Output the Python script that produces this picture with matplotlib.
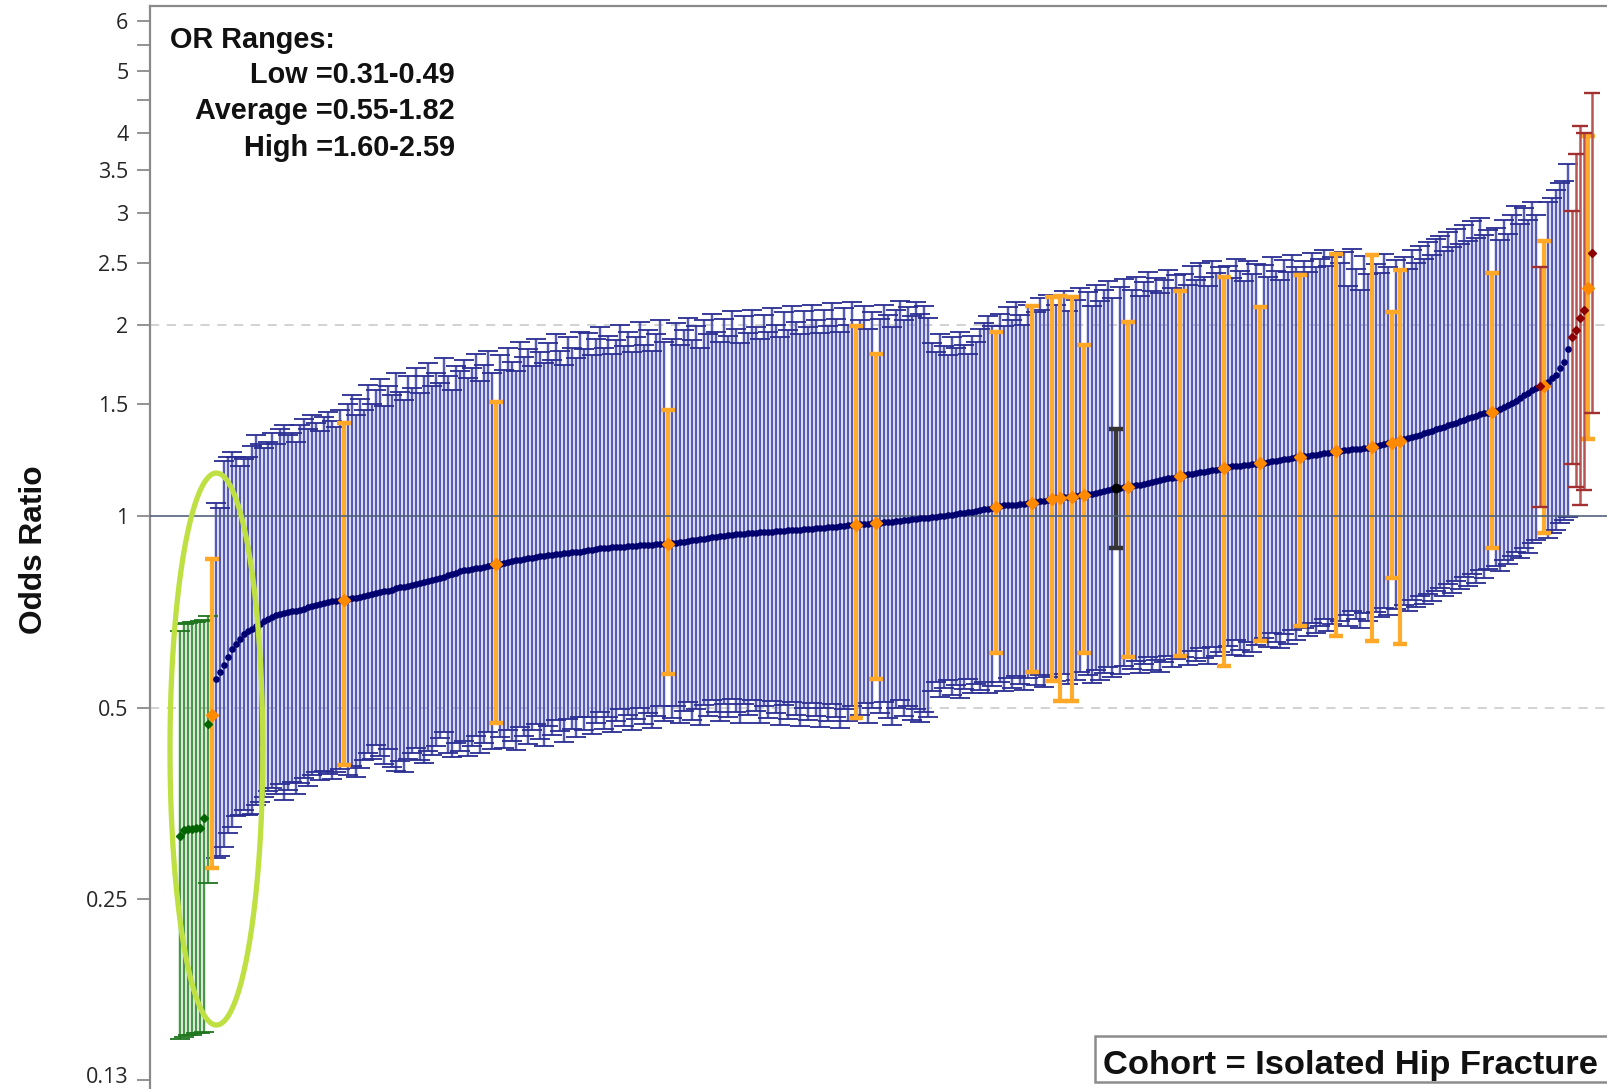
import numpy as np
import matplotlib
matplotlib.use("Agg")
import matplotlib.pyplot as plt
from matplotlib.patches import Rectangle
from matplotlib.transforms import ScaledTranslation

# ---------------- data (odds ratio, lower CI, upper CI) ----------------
green_or = [0.315, 0.321, 0.322, 0.323, 0.3235, 0.324, 0.336, 0.472]
green_lo = [0.151, 0.152, 0.153, 0.153, 0.154, 0.154, 0.155, 0.265]
green_hi = [0.660, 0.677, 0.679, 0.681, 0.683, 0.685, 0.687, 0.697]

orange_or = [0.488, 0.739, 0.840, 0.905, 0.970, 0.975, 1.035, 1.049, 1.065, 1.068, 1.072, 1.080,
             1.111, 1.157, 1.190, 1.211, 1.240, 1.264, 1.283, 1.305, 1.315, 1.457, 1.602, 2.28]
orange_lo = [0.280, 0.406, 0.473, 0.566, 0.482, 0.555, 0.610, 0.570, 0.550, 0.513, 0.513, 0.610,
             0.600, 0.603, 0.581, 0.637, 0.673, 0.649, 0.637, 0.800, 0.630, 0.891, 0.940, 1.32]
orange_hi = [0.856, 1.40, 1.51, 1.467, 1.99, 1.80, 1.95, 2.14, 2.21, 2.22, 2.21, 1.86,
             2.02, 2.26, 2.376, 2.13, 2.39, 2.58, 2.57, 2.09, 2.44, 2.41, 2.71, 3.95]

red_or = [1.600, 1.91, 1.96, 2.05, 2.11, 2.59]
red_lo = [1.035, 1.21, 1.11, 1.04, 1.10, 1.45]
red_hi = [2.46, 3.02, 3.71, 4.10, 4.00, 4.62]

black_or = [1.107]
black_lo = [0.891]
black_hi = [1.371]

blue_or = [
    0.555, 0.570, 0.583, 0.601, 0.618, 0.630, 0.641, 0.652, 0.660, 0.666, 0.671, 0.678,
    0.684, 0.690, 0.695, 0.699, 0.703, 0.705, 0.707, 0.709, 0.710, 0.712, 0.716, 0.719,
    0.722, 0.726, 0.729, 0.731, 0.733, 0.735, 0.736, 0.738,
    0.741, 0.743, 0.745, 0.747, 0.750, 0.752, 0.755, 0.757, 0.760, 0.762, 0.764, 0.767,
    0.770, 0.773, 0.775, 0.777, 0.779, 0.782, 0.785, 0.788, 0.790, 0.793, 0.796, 0.800,
    0.803, 0.807, 0.811, 0.815, 0.819,
    0.822, 0.824, 0.826, 0.828, 0.830, 0.832, 0.834, 0.837,
    0.842, 0.845, 0.848, 0.851, 0.853, 0.855, 0.857, 0.859, 0.861, 0.863, 0.865, 0.866,
    0.868, 0.869, 0.871, 0.872, 0.874, 0.875, 0.877, 0.879, 0.880,
    0.882, 0.884, 0.886, 0.888, 0.890, 0.891, 0.892, 0.893, 0.894, 0.895, 0.896, 0.897,
    0.898, 0.899, 0.900, 0.9005, 0.901, 0.902, 0.903, 0.9035, 0.904,
    0.907, 0.908, 0.910, 0.912, 0.914, 0.916, 0.918, 0.920, 0.922, 0.924, 0.926, 0.928,
    0.930, 0.932, 0.933, 0.935, 0.936, 0.938, 0.939, 0.940, 0.941, 0.942, 0.943, 0.944,
    0.945, 0.946, 0.947, 0.948, 0.949, 0.950, 0.951, 0.952, 0.953, 0.954, 0.955, 0.956,
    0.957, 0.958, 0.959, 0.960, 0.962, 0.963, 0.965, 0.966, 0.968, 0.969,
    0.971, 0.972, 0.973, 0.974,
    0.977, 0.978, 0.980, 0.981, 0.983, 0.984, 0.986, 0.987, 0.989, 0.990, 0.992, 0.993,
    0.995,
    0.996, 0.998, 1.000, 1.002, 1.004, 1.006, 1.008, 1.010, 1.012, 1.014, 1.016,
    1.019, 1.022, 1.025, 1.028, 1.031,
    1.038, 1.040, 1.041, 1.042, 1.043, 1.045, 1.046, 1.048,
    1.052, 1.055, 1.058, 1.062,
    1.067,
    1.070, 1.071,
    1.076, 1.078,
    1.082, 1.085, 1.088, 1.091, 1.095, 1.099, 1.103,
    1.109, 1.110,
    1.114, 1.118, 1.121, 1.125, 1.128, 1.132, 1.135, 1.139, 1.143, 1.147, 1.150, 1.154,
    1.160, 1.163, 1.166, 1.169, 1.172, 1.175, 1.178, 1.181, 1.184, 1.187,
    1.195, 1.197, 1.199, 1.201, 1.203, 1.205, 1.207, 1.209,
    1.214, 1.217, 1.220, 1.223, 1.226, 1.229, 1.232, 1.235, 1.238,
    1.243, 1.245, 1.248, 1.250, 1.253, 1.256, 1.259, 1.262,
    1.267, 1.269, 1.271, 1.273, 1.275, 1.277, 1.279, 1.281,
    1.288, 1.293, 1.298, 1.303,
    1.310,
    1.320, 1.325, 1.331, 1.337, 1.343, 1.349, 1.356, 1.363, 1.370, 1.376, 1.383, 1.390,
    1.396, 1.403, 1.410, 1.417, 1.424, 1.431, 1.438, 1.445, 1.450, 1.455,
    1.465, 1.475, 1.485, 1.495, 1.507, 1.519, 1.532, 1.548, 1.563, 1.578, 1.590,
    1.625, 1.650, 1.665, 1.710, 1.745, 1.830,
]
blue_hi = [
    1.05, 1.03, 1.22, 1.24, 1.26, 1.24, 1.20, 1.23, 1.24, 1.29, 1.34, 1.30,
    1.28, 1.31, 1.35, 1.30, 1.37, 1.39, 1.34, 1.35, 1.31, 1.39,
    1.42, 1.37, 1.44, 1.40, 1.36, 1.43, 1.46, 1.41, 1.38, 1.47,
    1.50, 1.55, 1.44, 1.53, 1.47, 1.61, 1.50, 1.58, 1.64, 1.49,
    1.60, 1.55, 1.68, 1.57, 1.52, 1.66, 1.59, 1.71, 1.56, 1.66,
    1.74, 1.60, 1.68, 1.62, 1.77, 1.66, 1.58, 1.72, 1.69,
    1.76, 1.65, 1.71, 1.80, 1.63, 1.73, 1.82, 1.68,
    1.79, 1.70, 1.84, 1.75, 1.69, 1.88, 1.78, 1.83, 1.72, 1.90,
    1.81, 1.74, 1.87, 1.76, 1.93, 1.82, 1.73, 1.91, 1.84, 1.77, 1.95,
    1.83, 1.94, 1.79, 1.90, 1.98, 1.84, 1.92, 1.80, 1.89, 2.00,
    1.85, 1.95, 1.81, 1.91, 2.02, 1.86, 1.96, 1.82, 1.93, 2.03, 1.88,
    1.90, 2.01, 1.86, 1.96, 2.05, 1.89, 1.99, 1.84, 2.03, 1.93,
    2.08, 1.95, 1.88, 2.04, 1.92, 2.10, 1.97, 1.87, 2.06, 1.94,
    2.11, 1.98, 1.90, 2.07, 1.95, 2.12, 2.00, 1.91, 2.09, 1.96,
    2.14, 2.02, 1.93, 2.10, 1.98, 2.15, 2.03, 1.94, 2.11, 1.99,
    2.16, 2.04, 1.95, 2.12, 2.00, 2.17,
    2.03, 2.14, 1.97, 2.09,
    2.04, 2.15, 2.07, 1.98, 2.11, 2.18, 2.03, 2.13, 2.06, 2.17, 2.08, 2.14, 2.05,
    1.87, 1.81, 1.93, 1.85, 1.79, 1.91, 1.84, 1.95, 1.86, 1.80, 1.92, 1.88, 1.97, 2.01, 2.06, 1.99,
    2.08, 1.99, 2.13, 2.03, 2.17, 2.07, 2.00, 2.15,
    2.09, 2.20, 2.11, 2.23,
    2.15,
    2.26, 2.10,
    2.19, 2.28,
    2.25, 2.14, 2.31, 2.18, 2.27, 2.34, 2.20,
    2.29, 2.36,
    2.27, 2.38, 2.22, 2.33, 2.42, 2.26, 2.37, 2.24, 2.35, 2.44, 2.28, 2.39,
    2.40, 2.31, 2.47, 2.35, 2.50, 2.38, 2.30, 2.52, 2.41, 2.46,
    2.47, 2.37, 2.54, 2.43, 2.34, 2.52, 2.40, 2.49,
    2.48, 2.38, 2.55, 2.43, 2.35, 2.53, 2.42, 2.57, 2.46,
    2.52, 2.42, 2.59, 2.46, 2.54, 2.62, 2.47, 2.55,
    2.50, 2.60, 2.30, 2.63, 2.45, 2.27, 2.56, 2.40,
    2.49, 2.41, 2.58, 2.46,
    2.53,
    2.55, 2.45, 2.62, 2.50, 2.66, 2.54, 2.70, 2.57, 2.73, 2.76,
    2.61, 2.80, 2.65, 2.83, 2.68, 2.87, 2.71, 2.91, 2.74, 2.94, 2.77, 2.82,
    2.84, 2.72, 2.92, 2.78, 2.97, 3.07, 2.88, 3.05, 2.92, 3.12, 2.97,
    3.12, 3.16, 3.26, 3.34, 3.36, 3.57,
]
blue_lo = [
    0.290, 0.292, 0.302, 0.318, 0.325, 0.338, 0.339, 0.345, 0.339, 0.340, 0.352, 0.356,
    0.362, 0.370, 0.374, 0.366, 0.380, 0.358, 0.372, 0.382, 0.366, 0.381,
    0.388, 0.377, 0.392, 0.396, 0.385, 0.398, 0.393, 0.386, 0.397, 0.401,
    0.392, 0.405, 0.389, 0.402, 0.414, 0.425, 0.416, 0.437, 0.420, 0.408,
    0.430, 0.404, 0.398, 0.413, 0.396, 0.416, 0.425, 0.432, 0.414, 0.409,
    0.428, 0.421, 0.436, 0.448, 0.458, 0.425, 0.418, 0.441, 0.428,
    0.444, 0.420, 0.436, 0.452, 0.425, 0.440, 0.458, 0.430,
    0.450, 0.433, 0.461, 0.444, 0.429, 0.466, 0.452, 0.438, 0.462, 0.472,
    0.447, 0.436, 0.468, 0.453, 0.478, 0.459, 0.442, 0.480, 0.463, 0.450, 0.484,
    0.462, 0.484, 0.455, 0.474, 0.492, 0.463, 0.483, 0.458, 0.476, 0.497,
    0.468, 0.487, 0.461, 0.480, 0.500, 0.472, 0.490, 0.464, 0.485, 0.503, 0.476,
    0.482, 0.503, 0.474, 0.494, 0.510, 0.478, 0.497, 0.470, 0.505, 0.486,
    0.514, 0.492, 0.476, 0.506, 0.484, 0.516, 0.493, 0.474, 0.507, 0.487,
    0.515, 0.494, 0.473, 0.503, 0.482, 0.512, 0.490, 0.470, 0.505, 0.481,
    0.510, 0.487, 0.468, 0.500, 0.478, 0.508, 0.486, 0.467, 0.499, 0.477,
    0.506, 0.484, 0.465, 0.497, 0.476, 0.503,
    0.488, 0.508, 0.474, 0.499,
    0.490, 0.510, 0.482, 0.470, 0.500, 0.514, 0.486, 0.504, 0.478, 0.497, 0.475, 0.493, 0.484,
    0.532, 0.548, 0.520, 0.538, 0.552, 0.524, 0.542, 0.518, 0.536, 0.554, 0.528, 0.545,
    0.534, 0.548, 0.527, 0.541,
    0.548, 0.532, 0.557, 0.538, 0.561, 0.545, 0.533, 0.556,
    0.543, 0.562, 0.540, 0.558,
    0.551,
    0.566, 0.544,
    0.552, 0.569,
    0.564, 0.547, 0.574, 0.553, 0.568, 0.580, 0.558,
    0.566, 0.582,
    0.575, 0.592, 0.567, 0.586, 0.600, 0.574, 0.594, 0.570, 0.590, 0.604, 0.580, 0.597,
    0.600, 0.584, 0.614, 0.592, 0.620, 0.598, 0.586, 0.624, 0.602, 0.612,
    0.626, 0.606, 0.638, 0.616, 0.602, 0.634, 0.612, 0.628,
    0.644, 0.624, 0.656, 0.634, 0.620, 0.654, 0.630, 0.662, 0.640,
    0.668, 0.648, 0.680, 0.656, 0.672, 0.690, 0.660, 0.678,
    0.684, 0.700, 0.672, 0.710, 0.690, 0.668, 0.704, 0.684,
    0.708, 0.694, 0.718, 0.700,
    0.716,
    0.726, 0.710, 0.738, 0.720, 0.748, 0.728, 0.756, 0.736, 0.764, 0.772,
    0.748, 0.782, 0.758, 0.792, 0.768, 0.802, 0.776, 0.812, 0.786, 0.822, 0.800, 0.826,
    0.835, 0.820, 0.852, 0.840, 0.866, 0.878, 0.860, 0.892, 0.876, 0.908, 0.917,
    0.925, 0.941, 0.953, 0.976, 0.985, 0.997,
]

y_ticks = [0.13, 0.25, 0.5, 1, 1.5, 2, 2.5, 3, 3.5, 4, 5, 6]
y_ticklabels = ["0.13", "0.25", "0.5", "1", "1.5", "2", "2.5", "3", "3.5", "4", "5", "6"]
y_minor = [4.5, 5.5]
range_title = "OR Ranges:"
range_lines = ["Low =0.31-0.49", "Average =0.55-1.82", "High =1.60-2.59"]
cohort_label = "Cohort = Isolated Hip Fracture"

# ---------------- combine & rank by odds ratio ----------------
groups = {"green": (green_or, green_lo, green_hi),
          "orange": (orange_or, orange_lo, orange_hi),
          "red": (red_or, red_lo, red_hi),
          "black": (black_or, black_lo, black_hi),
          "blue": (blue_or, blue_lo, blue_hi)}
all_or = np.concatenate([np.asarray(v[0], float) for v in groups.values()])
rank = np.empty(len(all_or), int)
rank[np.argsort(all_or, kind="stable")] = np.arange(len(all_or))
pos = {}
start = 0
for name, v in groups.items():
    n = len(v[0])
    pos[name] = rank[start:start + n]
    start += n

# ---------------- figure ----------------
W, H = 1607, 1089
fig = plt.figure(figsize=(W / 100, H / 100), dpi=100)
ax = fig.add_axes([150 / W, 0, 1470 / W, (H - 5.7) / H])
ax.set_yscale("log")
ax.set_xlim(-7.5, 360)
ax.set_ylim(0.1259, 6.34)

ax.axhline(2, color="#c6c6c6", lw=1.1, ls=(0, (6, 5)), zorder=0.5)
ax.axhline(0.5, color="#c6c6c6", lw=1.1, ls=(0, (6, 5)), zorder=0.5)

style = {
    "blue":   dict(line="#575bb8", cap="#2a2d92", pt="#00006e", lw=1.75, cs=7, ct=1.3, ms=3.8, mk="o", z=2),
    "green":  dict(line="#4a964a", cap="#1f761f", pt="#006400", lw=1.75, cs=7, ct=1.3, ms=3.8, mk="D", z=2.1),
    "orange": dict(line="#ffab2e", cap="#ffa726", pt="#ff8a00", lw=3.0, cs=5, ct=3.2, ms=6.5, mk="D", z=3),
    "red":    dict(line="#b95454", cap="#a33030", pt="#8b0000", lw=1.8, cs=6, ct=1.7, ms=4.5, mk="D", z=3.1),
    "black":  dict(line="#3a3a3a", cap="#333333", pt="#000000", lw=3.2, cs=5, ct=3.2, ms=6, mk="o", z=3.2),
}
for name in ["blue", "green", "orange", "red", "black"]:
    o, lo, hi = (np.asarray(a, float) for a in groups[name])
    s = style[name]
    ax.errorbar(pos[name], o, yerr=[o - lo, hi - o], fmt="none", ecolor=s["line"],
                elinewidth=s["lw"], capsize=0, zorder=s["z"])
    ax.errorbar(pos[name], o, yerr=[o - lo, hi - o], fmt="none", ecolor=s["cap"],
                elinewidth=0, capsize=s["cs"], capthick=s["ct"], zorder=s["z"] + 0.01)

ax.axhline(1, color="#4f5f78", lw=1.3, zorder=4, alpha=0.9)

for name in ["blue", "green", "orange", "red", "black"]:
    o = np.asarray(groups[name][0], float)
    s = style[name]
    ax.plot(pos[name], o, ls="none", marker=s["mk"], ms=s["ms"], color=s["pt"],
            mec=s["pt"], zorder=5 if name == "blue" else 6)

# highlight ellipse around the low-outlier group
t = np.linspace(0, 2 * np.pi, 400)
ecx, eax_, ey_lo, ey_hi = 9.1, 11.6, 0.1587, 1.169
lc, lb = (np.log(ey_hi) + np.log(ey_lo)) / 2, (np.log(ey_hi) - np.log(ey_lo)) / 2
ax.plot(ecx + eax_ * np.cos(t), np.exp(lc + lb * np.sin(t)), color="#bee043", lw=3.8,
        zorder=7, solid_capstyle="round", clip_on=False)

# axes styling
ax.set_yticks(y_ticks)
ax.set_yticklabels(y_ticklabels)
ax.set_yticks(y_minor, minor=True)
ax.yaxis.set_minor_formatter(matplotlib.ticker.NullFormatter())
ax.tick_params(axis="y", which="both", length=9.5, width=1.3, color="#8a8a8a", pad=6,
               labelsize=15.5, labelcolor="#262626")
for lab in ax.get_yticklabels():
    lab.set_fontfamily("Open Sans")
# the bottom-most label sits slightly above its tick, as in the reference
low_lab = ax.get_yticklabels()[0]
low_lab.set_transform(low_lab.get_transform() + ScaledTranslation(0, 5 / 100, fig.dpi_scale_trans))
ax.set_xticks([])
for side in ["bottom", "right"]:
    ax.spines[side].set_visible(False)
for side in ["left", "top"]:
    ax.spines[side].set_color("#8a8a8a")
    ax.spines[side].set_linewidth(1.6)

# texts
bold = dict(family="Liberation Sans", weight="bold", color="#111111")
fig.text(170 / W, 1 - 48 / H, range_title, ha="left", va="baseline", fontsize=20.8, **bold)
for txt, yb in zip(range_lines, [83, 119, 156]):
    fig.text(455 / W, 1 - yb / H, txt, ha="right", va="baseline", fontsize=20.8, **bold)

fig.text(34 / W, 1 - 550 / H, "Odds Ratio", rotation=90, ha="center", va="center",
         fontsize=22.8, **bold)

fig.patches.append(Rectangle((1095 / W, 7 / H), 0.4, 46 / H, transform=fig.transFigure,
                             facecolor="white", edgecolor="#8c8c8c", lw=1.8, zorder=10))
fig.text(1103 / W, 1 - 1074 / H, cohort_label, ha="left", va="baseline",
         fontsize=24.8, zorder=11, **bold)

fig.savefig("out.png", dpi=100)
